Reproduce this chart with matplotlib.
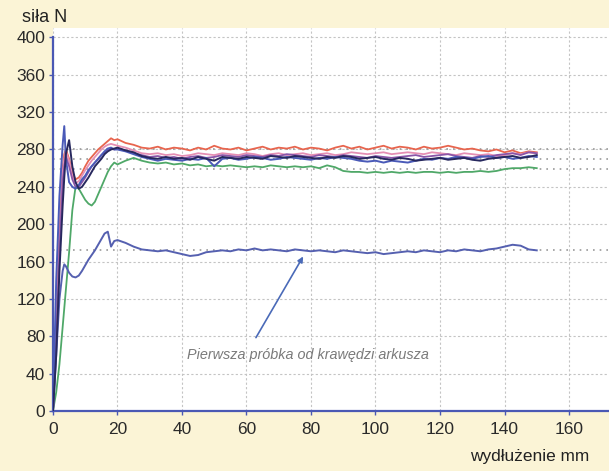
import matplotlib
matplotlib.use("Agg")
import matplotlib.pyplot as plt

plt.rcParams['font.family'] = ['Liberation Sans', 'DejaVu Sans']

# shared elongation points [mm]
x_head = [0, 1, 2, 3, 3.5, 4, 5, 6, 7, 8, 9, 10, 11, 12, 13, 14, 15, 16, 17, 18, 19]
x_tail = [20, 22.5, 25, 27.5, 30, 32.5, 35, 37.5, 40, 42.5, 45, 47.5, 50, 52.5,
          55, 57.5, 60, 62.5, 65, 67.5, 70, 72.5, 75, 77.5, 80, 82.5, 85, 87.5,
          90, 92.5, 95, 97.5, 100, 102.5, 105, 107.5, 110, 112.5, 115, 117.5,
          120, 122.5, 125, 127.5, 130, 132.5, 135, 137.5, 140, 142.5, 145,
          147.5, 150]
x_all = x_head + x_tail

# force [N] per sample
red = [0, 90, 190, 260, 275, 280, 270, 255, 248, 250, 255, 262, 268, 272, 276, 280, 283, 286, 289, 292, 290,
       291, 287, 285, 282, 281, 283, 280, 282, 281, 279, 282, 280, 284, 281, 280, 282, 279, 281, 283, 280,
       282, 281, 283, 280, 282, 281, 279, 282, 284, 281, 283, 280, 282, 284, 281, 283, 282, 280, 283, 281,
       282, 284, 282, 280, 281, 279, 278, 280, 277, 279, 276, 278, 277]
pink = [0, 80, 180, 255, 270, 278, 268, 252, 244, 246, 252, 258, 263, 268, 272, 276, 280, 283, 285, 286, 285,
        284, 282, 279, 276, 275, 276, 274, 275, 273, 274, 276, 275, 274, 276, 275, 274, 276, 275, 273, 275,
        276, 274, 275, 276, 274, 275, 276, 274, 275, 277, 276, 275, 276, 277, 275, 276, 277, 276, 275, 277,
        276, 275, 274, 276, 275, 274, 275, 273, 274, 276, 275, 277, 276]
navy = [0, 60, 150, 220, 250, 275, 290, 262, 245, 238, 240, 245, 250, 256, 262, 266, 270, 275, 278, 280, 281,
        282, 279, 277, 273, 271, 270, 272, 270, 271, 269, 272, 270, 268, 272, 271, 270, 272, 271, 270, 273,
        272, 271, 273, 272, 271, 270, 272, 271, 273, 272, 270, 271, 272, 270, 269, 271, 270, 268, 269, 270,
        271, 269, 270, 271, 269, 268, 270, 271, 272, 273, 271, 272, 274]
blue = [0, 140, 230, 285, 305, 270, 245, 240, 238, 242, 248, 252, 258, 262, 266, 270, 274, 278, 281, 282, 280,
        280, 278, 275, 272, 270, 268, 270, 269, 268, 270, 269, 271, 262, 270, 271, 269, 270, 272, 271, 269,
        270, 272, 271, 270, 269, 271, 270, 272, 271, 270, 268, 267, 268, 266, 268, 267, 266, 268, 270, 269,
        271, 270, 272, 271, 270, 272, 273, 271, 272, 270, 271, 273, 272]
purple = [0, 70, 170, 245, 262, 272, 262, 248, 240, 240, 245, 250, 256, 262, 266, 270, 274, 277, 280, 281, 280,
          281, 279, 276, 274, 272, 273, 271, 272, 270, 272, 273, 271, 272, 274, 273, 272, 274, 273, 272, 274,
          273, 275, 274, 273, 272, 274, 273, 272, 274, 273, 272, 271, 273, 272, 271, 272, 273, 274, 272, 273,
          274, 275, 273, 272, 271, 273, 272, 274, 275, 276, 274, 277, 276]
green = [0, 20, 50, 90, 110, 130, 170, 215, 240, 238, 232, 226, 222, 220, 224, 232, 240, 248, 256, 262, 266,
         264, 268, 271, 268, 266, 265, 266, 264, 265, 263, 264, 262, 263, 262, 263, 262, 261, 262, 261, 263,
         262, 261, 262, 261, 262, 260, 263, 261, 257, 256, 256, 255, 256, 255, 256, 255, 256, 255, 256, 256,
         255, 256, 255, 256, 256, 257, 256, 257, 259, 260, 260, 261, 260]
first = [0, 60, 120, 150, 157, 155, 148, 144, 143, 145, 150, 156, 162, 167, 172, 178, 184, 190, 192, 176, 182,
         183, 180, 176, 173, 172, 171, 172, 170, 168, 166, 167, 170, 171, 172, 171, 173, 172, 174, 172, 173,
         172, 171, 173, 172, 171, 172, 171, 170, 172, 171, 170, 169, 170, 168, 169, 170, 171, 170, 172, 171,
         170, 172, 171, 173, 172, 171, 173, 174, 176, 178, 177, 173, 172]

# dotted reference levels
ref_levels = [280, 270, 259, 172]

x_ticks = [0, 20, 40, 60, 80, 100, 120, 140, 160]
y_ticks = [0, 40, 80, 120, 160, 200, 240, 280, 320, 360, 400]

bg = '#fbf4d6'
spine = '#4a58b4'

fig = plt.figure(figsize=(6.09, 4.71), dpi=100, facecolor=bg)
ax = fig.add_axes([0.087, 0.1274, 0.913, 0.813])
ax.set_facecolor('white')

for lv in ref_levels:
    ax.axhline(lv, color='#9a9a9a', linestyle=(0, (1, 3)), linewidth=1.2, zorder=1)

ax.plot(x_all, green, color='#4fa868', linewidth=1.3, zorder=3)
ax.plot(x_all, red, color='#e8654e', linewidth=1.3, zorder=3)
ax.plot(x_all, pink, color='#e58fb4', linewidth=1.3, zorder=3)
ax.plot(x_all, purple, color='#8a55a8', linewidth=1.3, zorder=3)
ax.plot(x_all, blue, color='#4a5ab8', linewidth=1.4, zorder=4)
ax.plot(x_all, navy, color='#27285e', linewidth=1.4, zorder=4)
ax.plot(x_all, first, color='#5560b0', linewidth=1.4, zorder=3)

ax.set_xlim(0, 172.4)
ax.set_ylim(0, 410)
ax.set_xticks(x_ticks)
ax.set_yticks(y_ticks)
ax.grid(True, color='#c4c4c4', linestyle=(0, (2, 2)), linewidth=0.8, zorder=0)
ax.set_axisbelow(True)

for s in ['top', 'right']:
    ax.spines[s].set_visible(False)
ax.spines['left'].set_color(spine)
ax.spines['bottom'].set_color(spine)
ax.spines['left'].set_linewidth(1.6)
ax.spines['bottom'].set_linewidth(1.6)
ax.spines['left'].set_bounds(0, 400)
ax.tick_params(colors=spine, labelcolor='#2a2a2a', labelsize=12.5, length=3, width=1, pad=2.5)
ax.tick_params(axis='x', pad=5)

ax.annotate('', xy=(78, 168), xytext=(62.5, 76),
            arrowprops=dict(arrowstyle='-|>', color='#4a6ab8', lw=1.2, mutation_scale=8))
ax.text(41.5, 60, 'Pierwsza próbka od krawędzi arkusza', style='italic',
        color='#7a7a7a', fontsize=10.4, va='center', ha='left')

fig.text(0.036, 0.962, 'siła N', fontsize=13, color='#222222', va='center')
fig.text(0.968, 0.031, 'wydłużenie mm', fontsize=12.4, color='#222222', ha='right', va='center')

fig.savefig('out.png', dpi=100, facecolor=bg)
